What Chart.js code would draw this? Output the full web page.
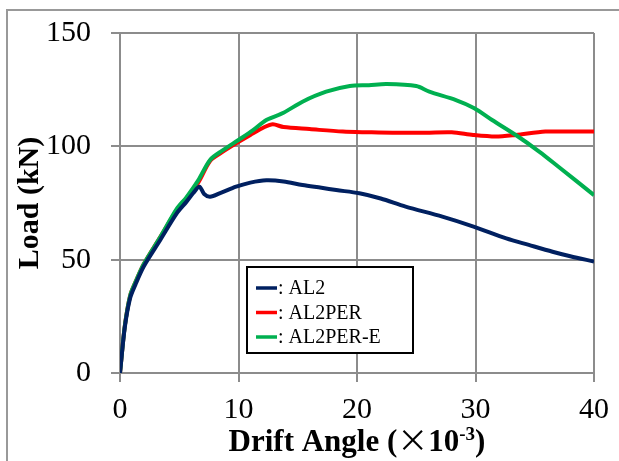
<!DOCTYPE html>
<html>
<head>
<meta charset="utf-8">
<script src="https://cdn.jsdelivr.net/npm/chart.js@4/dist/chart.umd.min.js"></script>
<style>
html,body{margin:0;padding:0;background:#fff;}
#wrap{width:619px;height:461px;}
</style>
</head>
<body>
<div id="wrap"><canvas id="c" width="619" height="461"></canvas></div>
<script>
// ---- data ----
const seriesNames = ['AL2', 'AL2PER', 'AL2PER-E'];
const xTicks = [0, 10, 20, 30, 40];
const yTicks = [0, 50, 100, 150];

const al2X = [0,0.4,0.85,1.3,2.0,3.4,4.8,5.6,6.2,6.7,7.1,7.6,8.5,9.8,11,12.35,13.8,15.4,17,18.25,20.2,22,24.1,27.2,29.9,32.6,34.5,36.5,38,40];
const al2Y = [0,20,33,39,47,58.7,70.5,75.5,79.5,82.2,79,77.8,79.5,82.2,84,85,84.5,82.9,81.7,80.7,79.3,77,73.4,69,64.5,59.4,56.5,53.5,51.5,49.2];

const al2perX = [0,0.4,0.85,1.3,2,3.4,4.8,5.6,6.6,7.6,8.5,9.8,11,12.2,12.9,13.8,16,18.8,21,23,25.8,28,29.8,31.7,33.4,35.9,38,40];
const al2perY = [0,20.5,34,40,48,60,72,77,84,93.5,97,101.3,105,108.5,109.7,108.5,107.6,106.5,106.2,106,106,106.2,105,104.3,105,106.5,106.5,106.5];

const al2perEX = [0,0.4,0.85,1.3,2,3.4,4.8,5.6,6.6,7.6,8.6,10,11.2,12.35,13.8,15.4,17.4,19.4,21,22.5,25,26.1,28.35,29.9,31.4,33.4,35.4,37,40];
const al2perEY = [0,20.5,34,40,48,60,72.5,77.5,85,94,98,102.8,107,111.6,114.8,119.7,124.1,126.6,127,127.5,126.6,124.1,120.4,116.8,111.6,105,97.6,91,78.5];

const colors = ['#002060', '#FF0000', '#00B050'];

function pts(xs, ys){ return xs.map((x,i)=>({x:x, y:ys[i]})); }

const FONT = "'Liberation Serif', 'Times New Roman', serif";

const framePlugin = {
  id: 'frame',
  beforeDraw(chart){
    const ctx = chart.ctx;
    ctx.save();
    ctx.fillStyle = '#fff';
    ctx.fillRect(0,0,chart.width,chart.height);
    ctx.strokeStyle = '#999';
    ctx.lineWidth = 2;
    ctx.strokeRect(7, 10, chart.width + 20, chart.height + 20);
    ctx.restore();
  }
};

const legendPlugin = {
  id: 'boxLegend',
  afterDatasetsDraw(chart){
    const ctx = chart.ctx;
    const a = chart.chartArea;
    const L = a.left + 127, T = a.top + 234, W = 166, H = 86;
    ctx.save();
    ctx.fillStyle = '#fff';
    ctx.fillRect(L, T, W, H);
    ctx.strokeStyle = '#000';
    ctx.lineWidth = 2;
    ctx.strokeRect(L, T, W, H);
    ctx.font = '20px ' + FONT;
    ctx.textBaseline = 'middle';
    ctx.fillStyle = '#000';
    seriesNames.forEach((n, i) => {
      const y = T + 21 + i * 24.5;
      ctx.strokeStyle = colors[i];
      ctx.lineWidth = 3.5;
      ctx.beginPath();
      ctx.moveTo(L + 9, y);
      ctx.lineTo(L + 30, y);
      ctx.stroke();
      ctx.fillText(': ' + n, L + 31, y + 1);
    });
    ctx.restore();
  }
};

const xTitlePlugin = {
  id: 'xTitle',
  afterDraw(chart){
    const ctx = chart.ctx;
    const a = chart.chartArea;
    const cx = (a.left + a.right) / 2;
    const base = 451;
    const big = 'bold 31px ' + FONT;
    const small = 'bold 19px ' + FONT;
    const cross = '31px ' + "'Noto Sans CJK JP', " + FONT;
    const parts = [
      {t:'Drift Angle (', f:big, dy:0},
      {t:'\u00D7', f:cross, dy:0},
      {t:'10', f:big, dy:0},
      {t:'-3', f:small, dy:-11},
      {t:')', f:big, dy:0}
    ];
    ctx.save();
    let total = 0;
    parts.forEach(p => { ctx.font = p.f; p.w = ctx.measureText(p.t).width; total += p.w; });
    let x = cx - total / 2;
    ctx.fillStyle = '#000';
    ctx.textBaseline = 'alphabetic';
    ctx.textAlign = 'left';
    parts.forEach(p => { ctx.font = p.f; ctx.fillText(p.t, x, base + p.dy); x += p.w; });
    ctx.restore();
  }
};

const ds = (i, xs, ys, order) => ({
  label: seriesNames[i],
  data: pts(xs, ys),
  borderColor: colors[i],
  backgroundColor: colors[i],
  borderWidth: 4,
  pointRadius: 0,
  showLine: true,
  tension: 0.3,
  fill: false,
  order: order
});

new Chart(document.getElementById('c'), {
  type: 'scatter',
  data: {
    datasets: [
      ds(0, al2X, al2Y, 0),
      ds(1, al2perX, al2perY, 2),
      ds(2, al2perEX, al2perEY, 1)
    ]
  },
  options: {
    responsive: false,
    animation: false,
    devicePixelRatio: 1,
    layout: { padding: { left: 0, top: 33, right: 25, bottom: 0 } },
    plugins: { legend: { display: false }, tooltip: { enabled: false } },
    scales: {
      x: {
        type: 'linear',
        min: 0, max: 40,
        afterBuildTicks: s => { s.ticks = xTicks.map(v => ({value: v})); },
        afterFit: s => { s.height = 88; s.paddingLeft = 0; s.paddingRight = 0; },
        grid: { color: '#8c8c8c', lineWidth: 2, tickLength: 9, drawTicks: true },
        border: { display: true, color: '#8c8c8c', width: 2 },
        ticks: { font: { family: FONT, size: 30 }, color: '#000', padding: 10, maxRotation: 0 }
      },
      y: {
        type: 'linear',
        min: 0, max: 150,
        afterBuildTicks: s => { s.ticks = yTicks.map(v => ({value: v})); },
        afterFit: s => { s.width = 120; s.paddingTop = 0; s.paddingBottom = 0; },
        grid: { color: '#8c8c8c', lineWidth: 2, tickLength: 9, drawTicks: true },
        border: { display: true, color: '#8c8c8c', width: 2 },
        ticks: { font: { family: FONT, size: 30 }, color: '#000', padding: 20 },
        title: { display: true, text: 'Load (kN)', font: { family: FONT, size: 30, weight: 'bold' }, color: '#000', padding: { top: 12, bottom: 0 } }
      }
    }
  },
  plugins: [framePlugin, legendPlugin, xTitlePlugin]
});
</script>
</body>
</html>
